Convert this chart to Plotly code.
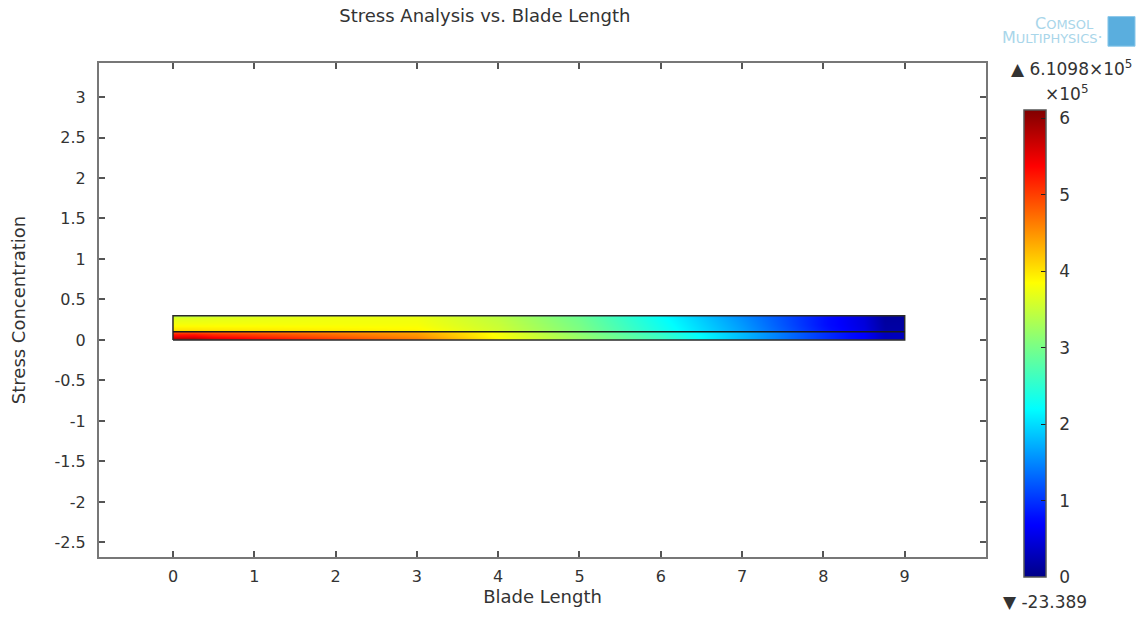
import plotly.graph_objects as go

# ---- data (stress in units of 1e5) ----
x_edges = [0, 0.5, 1.5, 2.5, 3.5, 4.5, 5.5, 6.5, 7.5, 8.5, 9]   # blade length cell edges
lower_y_edges = [0, 0.02, 0.08, 0.1]
upper_y_edges = [0.1, 0.12, 0.28, 0.3]

lower_bottom = [6.0, 5.5, 5.1, 4.7, 3.9, 3.2, 2.6, 1.8, 1.0, 0.3]
lower_mid    = [5.4, 5.1, 4.8, 4.5, 3.8, 3.2, 2.6, 1.8, 1.0, 0.3]
lower_top    = [5.0, 4.8, 4.6, 4.4, 3.8, 3.1, 2.5, 1.8, 1.0, 0.3]

upper_bottom = [4.3, 4.2, 4.1, 4.0, 3.6, 3.1, 2.4, 1.7, 0.9, 0.2]
upper_mid    = [3.8, 3.8, 3.8, 3.8, 3.5, 3.0, 2.3, 1.6, 0.8, 0.15]
upper_top    = [3.5, 3.6, 3.7, 3.7, 3.4, 2.9, 2.2, 1.5, 0.8, 0.1]

blade_x = [0, 9]
layer_y = [0, 0.1, 0.3]

z_min_label = "-23.389"
z_max = 6.1098
x_ticks = list(range(0, 10))
y_ticks = [-2.5, -2, -1.5, -1, -0.5, 0, 0.5, 1, 1.5, 2, 2.5, 3]
cbar_ticks = [0, 1, 2, 3, 4, 5, 6]

jet = [
    [0.0, "rgb(0,0,135)"],
    [0.11, "rgb(0,0,255)"],
    [0.125, "rgb(0,10,255)"],
    [0.36, "rgb(0,255,255)"],
    [0.5, "rgb(128,255,128)"],
    [0.63, "rgb(255,255,0)"],
    [0.88, "rgb(255,0,0)"],
    [1.0, "rgb(128,0,0)"],
]

FONT = "DejaVu Sans"
TXT = "#333333"

fig = go.Figure()

fig.add_trace(go.Heatmap(
    x=x_edges, y=lower_y_edges, z=[lower_bottom, lower_mid, lower_top],
    coloraxis="coloraxis", zsmooth="best", hoverinfo="skip"))
fig.add_trace(go.Heatmap(
    x=x_edges, y=upper_y_edges, z=[upper_bottom, upper_mid, upper_top],
    coloraxis="coloraxis", zsmooth="best", hoverinfo="skip"))

# geometry outline
x0, x1 = blade_x
ylo, ymid, yhi = layer_y
fig.add_trace(go.Scatter(
    x=[x0, x1, x1, x0, x0], y=[ylo, ylo, yhi, yhi, ylo],
    mode="lines", line=dict(color="#2a2a2a", width=1.5),
    hoverinfo="skip", showlegend=False))
fig.add_trace(go.Scatter(
    x=[x0, x1], y=[ymid, ymid],
    mode="lines", line=dict(color="#1a1a1a", width=1.5),
    hoverinfo="skip", showlegend=False))

axis_common = dict(
    showgrid=False, zeroline=False, showline=True, linecolor="#777777", linewidth=2,
    mirror="allticks", ticks="inside", ticklen=6, tickwidth=1.5, tickcolor="#555555",
    tickfont=dict(family=FONT, size=16, color=TXT),
)

fig.update_layout(
    width=1144, height=623,
    margin=dict(l=99, r=158, t=63, b=66),
    paper_bgcolor="white", plot_bgcolor="white",
    font=dict(family=FONT, color=TXT),
    showlegend=False,
    title=dict(text="Stress Analysis vs. Blade Length", x=0.435, xref="paper", xanchor="center",
               y=0.975, yref="container", yanchor="middle",
               font=dict(family=FONT, size=18, color=TXT)),
    xaxis=dict(range=[-0.91, 10.0], tickvals=x_ticks, ticktext=[str(v) for v in x_ticks],
               ticklabelstandoff=4,
               title=dict(text="Blade Length", font=dict(family=FONT, size=18, color=TXT), standoff=2),
               **axis_common),
    yaxis=dict(range=[-2.68, 3.42], tickvals=y_ticks, ticktext=[f"{v:g}" for v in y_ticks],
               ticklabelstandoff=8,
               title=dict(text="Stress Concentration", font=dict(family=FONT, size=18, color=TXT), standoff=24),
               **axis_common),
    coloraxis=dict(
        colorscale=jet, cmin=0, cmax=z_max,
        colorbar=dict(
            x=1.043, xanchor="left", xref="paper",
            y=0.432, yanchor="middle",
            lenmode="pixels", len=467, thickness=22,
            outlinecolor="#555555", outlinewidth=1.5,
            ticks="inside", ticklen=5, tickcolor="#222222",
            tickvals=cbar_ticks, ticktext=["\u2002" + str(v) for v in cbar_ticks],
            tickfont=dict(family=FONT, size=17, color=TXT),
            ypad=0, xpad=0,
        ),
    ),
)

# colorbar annotations
fig.add_annotation(xref="paper", yref="paper", x=1.096, y=0.99, xanchor="center", yanchor="middle",
                   text="\u25B2 6.1098\u00D710<sup>5</sup>", showarrow=False,
                   font=dict(family=FONT, size=17, color=TXT))
fig.add_annotation(xref="paper", yref="paper", x=1.091, y=0.94, xanchor="center", yanchor="middle",
                   text="\u00D710<sup>5</sup>", showarrow=False,
                   font=dict(family=FONT, size=17, color=TXT))
fig.add_annotation(xref="paper", yref="paper", x=1.017, y=-0.091, xanchor="left", yanchor="middle",
                   text="\u25BC " + z_min_label, showarrow=False,
                   font=dict(family=FONT, size=17, color=TXT))

# COMSOL logo (text)
fig.add_annotation(xref="paper", yref="paper", x=1.124, y=1.08, xanchor="right", yanchor="middle",
                   text="C<span style='font-size:13px'>OMSOL</span>", showarrow=False,
                   font=dict(family=FONT, size=16, color="#a9d6ea"))
fig.add_annotation(xref="paper", yref="paper", x=1.134, y=1.052, xanchor="right", yanchor="middle",
                   text="M<span style='font-size:13px'>ULTIPHYSICS</span>\u00B7", showarrow=False,
                   font=dict(family=FONT, size=16, color="#a9d6ea"))
fig.add_shape(type="rect", xref="paper", yref="paper", x0=1.1375, x1=1.168, y0=1.034, y1=1.094,
              fillcolor="#5aaede", line=dict(color="#8cc8ea", width=1))

fig.write_html("out.html")
